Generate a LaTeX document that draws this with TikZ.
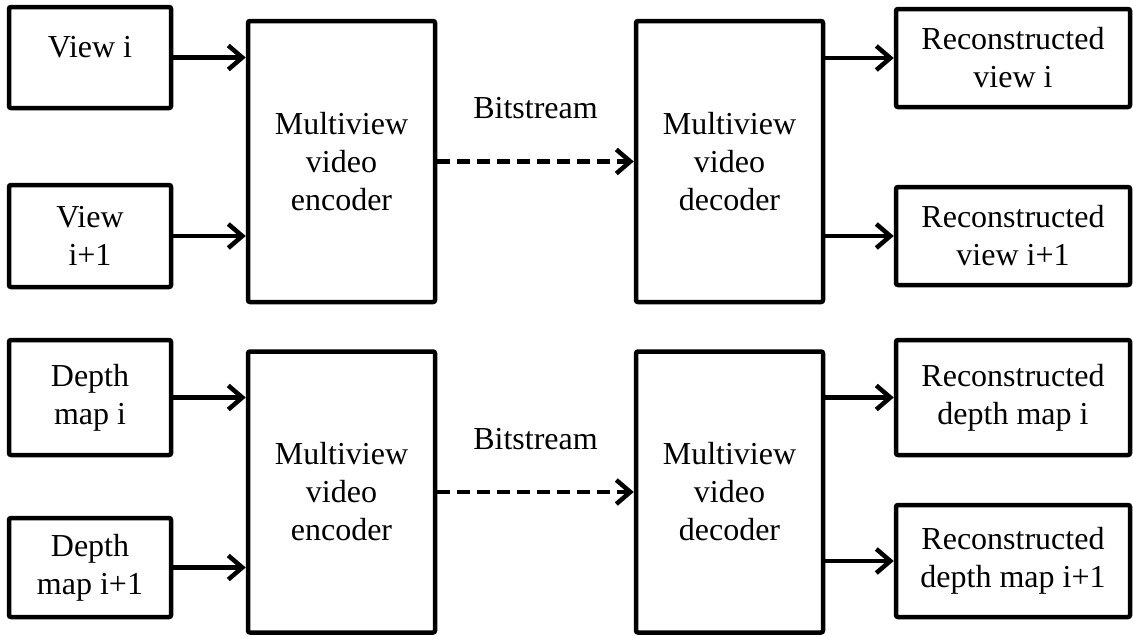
\documentclass[tikz,border=0pt]{standalone}
\usepackage{fontspec}
\setmainfont{Liberation Serif}
\usetikzlibrary{arrows.meta}

\begin{document}
\begin{tikzpicture}[x=1pt, y=-1pt, line width=4.5pt, -{Straight Barb[length=14pt,width=24pt]},
      every node/.append style={font=\fontsize{32}{38}\selectfont, align=center},
      bits/.style={dashed, dash pattern=on 13pt off 7pt}]
    \tikzstyle{block} = [draw, rounded corners=2pt, inner sep=0pt]
    \tikzstyle{src} = [block, minimum width=162pt]
    \tikzstyle{codec} = [block, minimum width=187pt, minimum height=281pt]
    \tikzstyle{rec} = [block, minimum width=234pt]
    \useasboundingbox (0,0) rectangle (1133,635);
    % views
    \node (view1) [src, minimum height=101pt, text depth=22pt] at (90,57.5) {View i};
    \node (view2) [src, minimum height=102pt] at (90,236) {View\\i+1};
    \node (enc1) [codec] at (341.5,161.5) {Multiview\\video\\encoder};
    \node (dec1) [codec] at (729.5,161.5) {Multiview\\video\\decoder};
    \node (rview1) [rec, minimum height=98pt] at (1013,58) {Reconstructed\\view i};
    \node (rview2) [rec, minimum height=98pt] at (1013,236) {Reconstructed\\view i+1};
    % depth maps
    \node (depth1) [src, minimum height=115pt] at (90,397.5) {Depth\\map i};
    \node (depth2) [src, minimum height=99pt] at (90,567.5) {Depth\\map i+1};
    \node (enc2) [codec] at (341.5,492) {Multiview\\video\\encoder};
    \node (dec2) [codec] at (729.5,492) {Multiview\\video\\decoder};
    \node (rdepth1) [rec, minimum height=115pt] at (1013,397.5) {Reconstructed\\depth map i};
    \node (rdepth2) [rec, minimum height=112pt] at (1013,561) {Reconstructed\\depth map i+1};

    \draw (view1.east) -- (view1.east -| enc1.west);
    \draw (view2.east) -- (view2.east -| enc1.west);
    \draw[bits] (enc1) -- node[anchor=south, yshift=37pt] {Bitstream} (dec1);
    \draw (rview1.west -| dec1.east) -- (rview1.west);
    \draw (rview2.west -| dec1.east) -- (rview2.west);

    \draw (depth1.east) -- (depth1.east -| enc2.west);
    \draw (depth2.east) -- (depth2.east -| enc2.west);
    \draw[bits] (enc2) -- node[anchor=south, yshift=37pt] {Bitstream} (dec2);
    \draw (rdepth1.west -| dec2.east) -- (rdepth1.west);
    \draw (rdepth2.west -| dec2.east) -- (rdepth2.west);
\end{tikzpicture}
\end{document}
